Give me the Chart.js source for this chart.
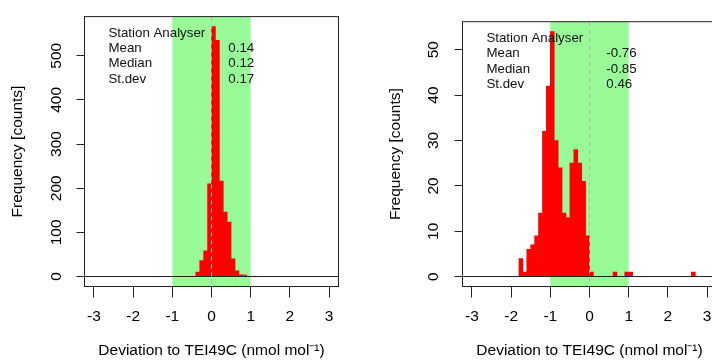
<!DOCTYPE html>
<html><head><meta charset="utf-8">
<script src="https://cdn.jsdelivr.net/npm/chart.js@4/dist/chart.umd.min.js"></script>
<style>
html,body{margin:0;padding:0;background:#fff;overflow:hidden;width:712px;height:360px;}
#wrap{position:relative;width:712px;height:360px;overflow:hidden;background:#fff;}
.panel{position:absolute;top:0;width:356px;height:360px;}
#p1{left:0}
#p2{left:378px}
canvas{display:block}
</style></head><body>
<div id="wrap">
<div class="panel" id="p1"><canvas id="c1" width="356" height="360"></canvas></div>
<div class="panel" id="p2"><canvas id="c2" width="356" height="360"></canvas></div>
</div>
<script>
// ---- data ----
const xTicks = [-3, -2, -1, 0, 1, 2, 3];
const toleranceBand = [-1, 1];

const leftBinCenters = [-0.35, -0.25, -0.15, -0.05, 0.05, 0.15, 0.25, 0.35, 0.45, 0.55, 0.65, 0.75, 0.85];
const leftCounts     = [10, 36, 58, 210, 566, 535, 216, 146, 123, 40, 13, 4, 3];
const leftYTicks     = [0, 100, 200, 300, 400, 500];
const leftStats      = ['0.14', '0.12', '0.17'];

const rightBinCenters = [-1.75, -1.65, -1.55, -1.45, -1.35, -1.25, -1.15, -1.05, -0.95, -0.85, -0.75, -0.65,
                         -0.55, -0.45, -0.35, -0.25, -0.15, -0.05, 0.05, 0.65, 0.95, 1.05, 2.65];
const rightCounts     = [4, 1, 6, 7, 9, 14, 32, 42, 54, 30, 24, 14, 13, 25, 28, 25, 21, 9, 1, 1, 1, 1, 1];
const rightYTicks     = [0, 10, 20, 30, 40, 50];
const rightStats      = ['-0.76', '-0.85', '0.46'];

const statTitle  = 'Station Analyser';
const statLabels = ['Mean', 'Median', 'St.dev'];
const xTitle = 'Deviation to TEI49C (nmol mol⁻¹)';
const yTitle = 'Frequency [counts]';

// ---- drawing ----
const FONT = '"Liberation Sans", Arial, Helvetica, sans-serif';
const ink = '#000';
const AXFS = 15.5;

const deco = {
  id: 'deco',
  beforeDatasetsDraw(chart) {
    const {ctx, chartArea: a, scales: {x}} = chart;
    const x0 = x.getPixelForValue(toleranceBand[0]);
    const x1 = x.getPixelForValue(toleranceBand[1]);
    ctx.save();
    ctx.fillStyle = '#98fb98';
    ctx.fillRect(x0, a.top, x1 - x0, a.bottom - a.top);
    ctx.restore();
  },
  afterDatasetsDraw(chart, args, opts) {
    const {ctx, chartArea: a, scales: {x, y}} = chart;
    ctx.save();
    const y0 = Math.floor(y.getPixelForValue(0)) + 0.5;
    ctx.strokeStyle = '#222';
    ctx.lineWidth = 1;
    ctx.beginPath(); ctx.moveTo(a.left, y0); ctx.lineTo(a.right, y0); ctx.stroke();
    const x0 = Math.floor(x.getPixelForValue(0)) + 0.5;
    ctx.strokeStyle = '#b4b4b4';
    ctx.setLineDash([4, 4]);
    ctx.beginPath(); ctx.moveTo(x0, a.top); ctx.lineTo(x0, a.bottom); ctx.stroke();
    ctx.setLineDash([]);
    ctx.fillStyle = '#111';
    ctx.font = '13.3px ' + FONT;
    ctx.textBaseline = 'alphabetic';
    ctx.textAlign = 'left';
    const lx = x.getPixelForValue(-2.63);
    const vx = x.getPixelForValue(0.43);
    const base = a.top + 20, step = 15.4;
    ctx.fillText(statTitle, lx, base);
    statLabels.forEach((t, i) => {
      ctx.fillText(t, lx, base + step * (i + 1));
      ctx.fillText(opts.values[i], vx, base + step * (i + 1));
    });
    ctx.restore();
  },
  afterDraw(chart) {
    const {ctx, chartArea: a} = chart;
    ctx.save();
    ctx.strokeStyle = '#222';
    ctx.lineWidth = 1;
    ctx.strokeRect(a.left, a.top, a.right - a.left, a.bottom - a.top);
    ctx.restore();
  }
};

function makeChart(id, centers, counts, yTicks, stats, yTickPad) {
  const ymax = Math.max(...counts);
  const ext = ymax * 0.04;
  return new Chart(document.getElementById(id), {
    type: 'bar',
    data: {
      datasets: [{
        data: centers.map((c, i) => ({x: c, y: counts[i]})),
        backgroundColor: '#ff0000',
        borderWidth: 0,
        barPercentage: 1,
        categoryPercentage: 1
      }]
    },
    options: {
      responsive: false,
      maintainAspectRatio: false,
      devicePixelRatio: 1,
      animation: false,
      layout: {padding: {left: 0, right: 17.5, top: 14.5, bottom: 0}},
      plugins: {legend: {display: false}, tooltip: {enabled: false}, deco: {values: stats}},
      scales: {
        x: {
          type: 'linear',
          min: -3.24, max: 3.24,
          offset: false,
          afterBuildTicks: s => { s.ticks = xTicks.map(v => ({value: v})); },
          afterFit: s => { s.height = 73.5; },
          grid: {offset: false, drawOnChartArea: false, drawTicks: true, tickLength: 11, color: '#222'},
          border: {display: false},
          ticks: {font: {family: FONT, size: AXFS}, color: ink, padding: 10, maxRotation: 0,
                  callback: v => String(v)},
          title: {display: true, text: xTitle, color: ink, font: {family: FONT, size: AXFS},
                  padding: {top: 0, bottom: 0}}
        },
        y: {
          min: -ext, max: ymax + ext,
          afterBuildTicks: s => { s.ticks = yTicks.map(v => ({value: v})); },
          afterFit: s => { s.width = 84.5; },
          grid: {drawOnChartArea: false, drawTicks: true, tickLength: 8, color: '#222'},
          border: {display: false},
          ticks: {font: {family: FONT, size: AXFS}, color: ink, padding: yTickPad,
                  minRotation: 90, maxRotation: 90, crossAlign: 'center',
                  callback: v => String(v)},
          title: {display: true, text: yTitle, color: ink, font: {family: FONT, size: AXFS},
                  padding: {top: 8.3, bottom: 0}}
        }
      }
    },
    plugins: [deco]
  });
}

makeChart('c1', leftBinCenters, leftCounts, leftYTicks, leftStats, 7.3);
makeChart('c2', rightBinCenters, rightCounts, rightYTicks, rightStats, 12.4);
</script>
</body></html>
